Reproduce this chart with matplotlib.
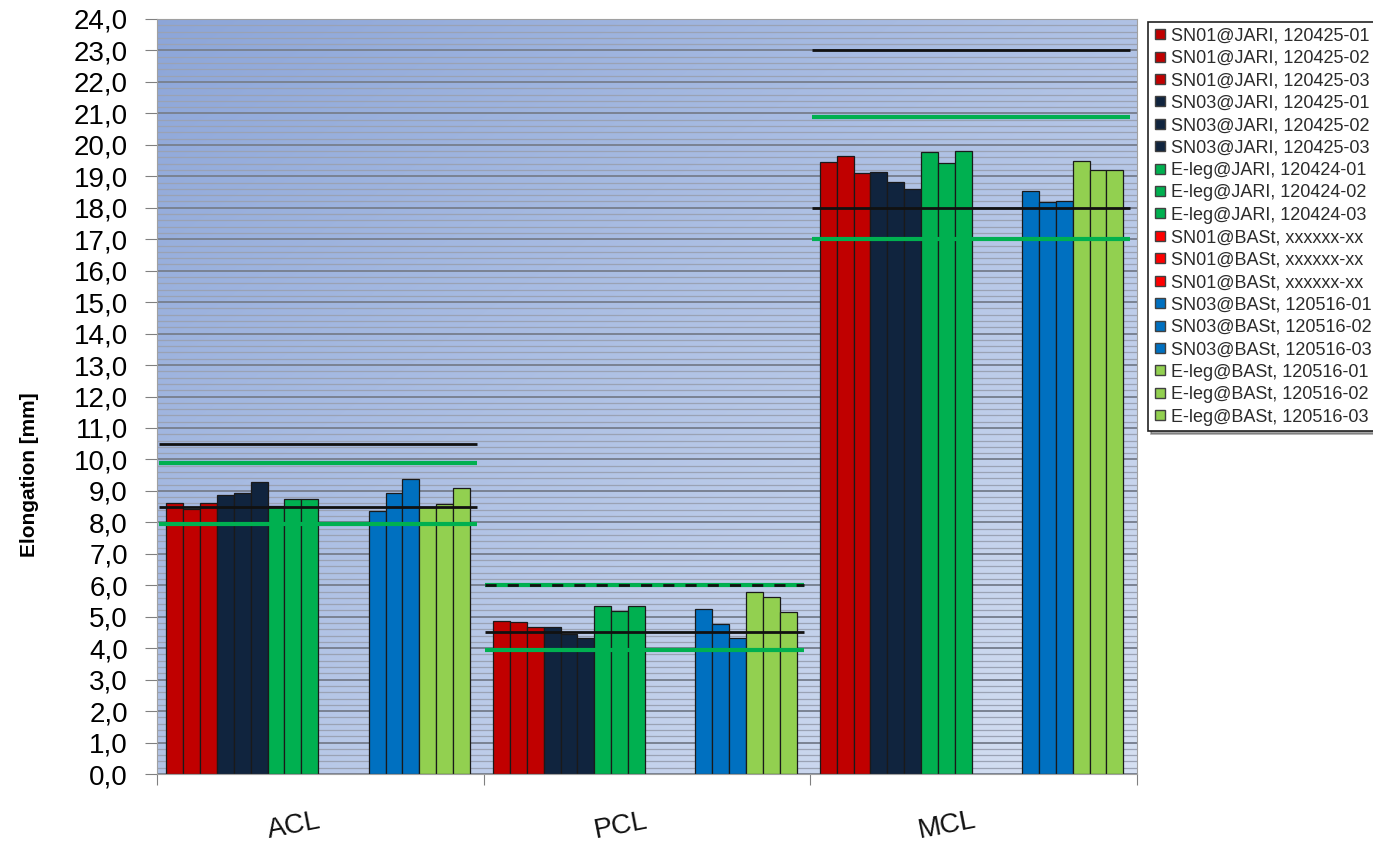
import numpy as np
import matplotlib
matplotlib.use("Agg")
import matplotlib.pyplot as plt
import matplotlib.transforms as mtrans
from matplotlib.lines import Line2D
from matplotlib.ticker import MultipleLocator, FuncFormatter

plt.rcParams['font.family'] = ['Liberation Sans', 'DejaVu Sans']

# Kategorien
ligaments = ["ACL", "PCL", "MCL"]

# Messreihen (ACL, PCL, MCL) in mm
sn01_jari_1 = [8.62, 4.87, 19.47]
sn01_jari_2 = [8.41, 4.82, 19.66]
sn01_jari_3 = [8.62, 4.68, 19.10]
sn03_jari_1 = [8.88, 4.66, 19.14]
sn03_jari_2 = [8.93, 4.45, 18.81]
sn03_jari_3 = [9.27, 4.32, 18.61]
eleg_jari_1 = [8.51, 5.35, 19.76]
eleg_jari_2 = [8.74, 5.19, 19.42]
eleg_jari_3 = [8.74, 5.35, 19.79]
sn01_bast_1 = [np.nan, np.nan, np.nan]
sn01_bast_2 = [np.nan, np.nan, np.nan]
sn01_bast_3 = [np.nan, np.nan, np.nan]
sn03_bast_1 = [8.36, 5.24, 18.53]
sn03_bast_2 = [8.93, 4.77, 18.19]
sn03_bast_3 = [9.37, 4.31, 18.20]
eleg_bast_1 = [8.49, 5.77, 19.50]
eleg_bast_2 = [8.59, 5.63, 19.19]
eleg_bast_3 = [9.09, 5.14, 19.19]

series = [sn01_jari_1, sn01_jari_2, sn01_jari_3,
          sn03_jari_1, sn03_jari_2, sn03_jari_3,
          eleg_jari_1, eleg_jari_2, eleg_jari_3,
          sn01_bast_1, sn01_bast_2, sn01_bast_3,
          sn03_bast_1, sn03_bast_2, sn03_bast_3,
          eleg_bast_1, eleg_bast_2, eleg_bast_3]

series_labels = ["SN01@JARI, 120425-01", "SN01@JARI, 120425-02", "SN01@JARI, 120425-03",
                 "SN03@JARI, 120425-01", "SN03@JARI, 120425-02", "SN03@JARI, 120425-03",
                 "E-leg@JARI, 120424-01", "E-leg@JARI, 120424-02", "E-leg@JARI, 120424-03",
                 "SN01@BASt, xxxxxx-xx", "SN01@BASt, xxxxxx-xx", "SN01@BASt, xxxxxx-xx",
                 "SN03@BASt, 120516-01", "SN03@BASt, 120516-02", "SN03@BASt, 120516-03",
                 "E-leg@BASt, 120516-01", "E-leg@BASt, 120516-02", "E-leg@BASt, 120516-03"]

series_colors = ["#C00000"] * 3 + ["#10243E"] * 3 + ["#00B050"] * 3 + \
                ["#FF0000"] * 3 + ["#0070C0"] * 3 + ["#92D050"] * 3

# Grenzwerte
black_low = [8.5, 4.5, 18.0]
black_high = [10.5, 6.0, 23.0]
green_low = [7.95, 3.95, 17.0]
green_high = [9.9, 6.0, 20.9]

fig = plt.figure(figsize=(13.73, 8.43), dpi=100)
ax = fig.add_axes([157 / 1373, 1 - 774 / 843, 980 / 1373, 755 / 843])

# Hintergrundverlauf
nx, ny = 200, 200
X, Yt = np.meshgrid(np.linspace(0, 1, nx), np.linspace(1, 0, ny))
d = np.clip(((1 - X) * 0.55 + Yt * 0.6) / 1.15, 0, 1)[..., None]
light = np.array([0.84, 0.88, 0.95])
dark = np.array([0.55, 0.65, 0.85])
ax.imshow(light + d * (dark - light), extent=(0, 1, 0, 1), transform=ax.transAxes,
          aspect="auto", zorder=0, interpolation="bilinear")

# Balken
w = 0.0516
offset = 0.029
x = np.arange(len(ligaments))
for k, vals in enumerate(series):
    ax.bar(x + offset + (k + 0.5) * w, vals, width=w, color=series_colors[k],
           edgecolor="#1a1a1a", linewidth=0.9, zorder=2)

# Grenzlinien
for i in range(len(ligaments)):
    x0, x1 = i + 0.005, i + 0.98
    ax.hlines(green_low[i], x0, x1, color="#00B050", linewidth=3, zorder=3)
    ax.hlines(green_high[i], x0, x1, color="#00B050", linewidth=3, zorder=3)
    ax.hlines(black_low[i], x0, x1, color="#111111", linewidth=2, zorder=4)
    ls = (0, (4, 4)) if black_high[i] == green_high[i] else "-"
    ax.hlines(black_high[i], x0, x1, color="#111111", linewidth=2, zorder=4, linestyles=ls)

ax.set_xlim(0, 3)
ax.set_ylim(0, 24)

# Achsen
ax.yaxis.set_major_locator(MultipleLocator(1))
ax.yaxis.set_minor_locator(MultipleLocator(0.2))
ax.yaxis.set_major_formatter(FuncFormatter(lambda v, p: f"{v:.1f}".replace(".", ",")))
ax.tick_params(axis="y", which="major", labelsize=20, length=9, color="#808080", pad=12)
ax.tick_params(axis="y", which="minor", length=0)
ax.grid(which="minor", axis="y", color="#9aa2b4", linewidth=0.9, zorder=1)
ax.grid(which="major", axis="y", color="#7a8292", linewidth=1.4, zorder=1)
ax.set_axisbelow(True)

ax.set_xticks([0, 1, 2, 3])
ax.set_xticklabels([])
ax.tick_params(axis="x", length=8, color="#808080")
for s in ax.spines.values():
    s.set_color("#a0a0a0")

trans = mtrans.blended_transform_factory(ax.transData, fig.transFigure)
for i, lab in enumerate(ligaments):
    ax.text(i + 0.42, 1 - 826 / 843, lab, transform=trans, fontsize=20,
            rotation=11, ha="center", va="center", color="#111111")

fig.text(30 / 1373, 1 - 475 / 843, "Elongation [mm]", rotation=90, fontsize=15,
         fontweight="bold", ha="center", va="center")

# Legende
handles = [Line2D([], [], marker="s", linestyle="none", markersize=7,
                  markerfacecolor=c, markeredgecolor="#404040") for c in series_colors]
leg = fig.legend(handles, series_labels, loc="upper left",
                 bbox_to_anchor=(1148 / 1373, 1 - 22 / 843), fontsize=13,
                 labelspacing=0.3, handlelength=0.7, handletextpad=0.25,
                 borderpad=0.3, borderaxespad=0, frameon=True, fancybox=False,
                 shadow=True, edgecolor="#222222", labelcolor="#2b2b2b")
leg.get_frame().set_linewidth(1.2)

fig.savefig("out.png", dpi=100)
